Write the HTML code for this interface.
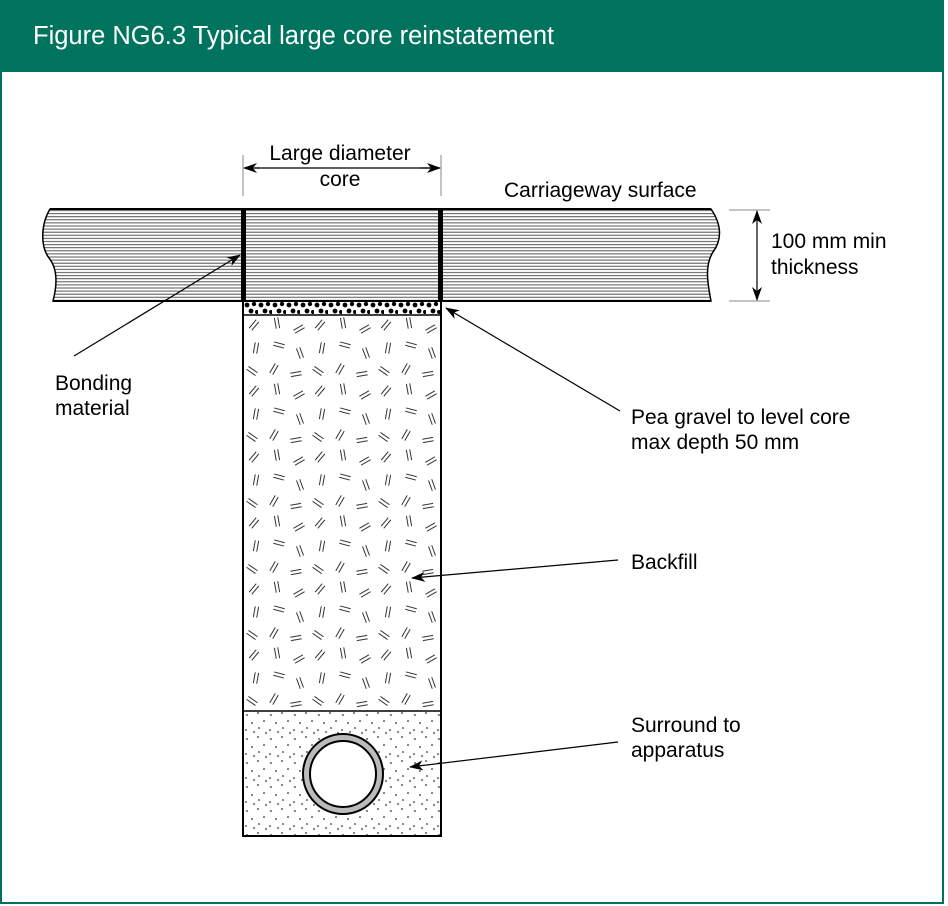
<!DOCTYPE html>
<html><head><meta charset="utf-8"><style>
html,body{margin:0;padding:0;background:#fff;}
body{width:948px;height:906px;overflow:hidden;position:relative;font-family:"Liberation Sans",Arial,sans-serif;}
</style></head><body>
<svg width="948" height="906" viewBox="0 0 948 906" xmlns="http://www.w3.org/2000/svg" style="position:absolute;left:0;top:0" font-family="Liberation Sans, Arial, sans-serif">
<defs>
<pattern id="hl" width="10" height="3.1" patternUnits="userSpaceOnUse" y="209">
<rect width="10" height="3.1" fill="#fff"/>
<line x1="0" y1="1.5" x2="10" y2="1.5" stroke="#555" stroke-width="1"/>
</pattern>
<pattern id="grav" width="14" height="14" patternUnits="userSpaceOnUse" x="244" y="301">
<circle cx="3" cy="4" r="2.4" fill="#000"/><circle cx="10" cy="3" r="2.2" fill="#000"/>
<circle cx="7" cy="10" r="2.4" fill="#000"/><circle cx="13" cy="11" r="2" fill="#000"/>
</pattern>
<g id="m"><path d="M-5.5,-1.7 L5.5,-1.7 M-5.5,1.7 L5.5,1.7" stroke="#333" stroke-width="1"/></g>
<pattern id="bf" width="66" height="66" patternUnits="userSpaceOnUse" x="244" y="315">
<use href="#m" transform="translate(10,10) rotate(-50)"/>
<use href="#m" transform="translate(33,8) rotate(80)"/>
<use href="#m" transform="translate(55,14) rotate(-30)"/>
<use href="#m" transform="translate(12,33) rotate(100)"/>
<use href="#m" transform="translate(35,30) rotate(15)"/>
<use href="#m" transform="translate(56,38) rotate(70)"/>
<use href="#m" transform="translate(8,56) rotate(35)"/>
<use href="#m" transform="translate(30,54) rotate(-60)"/>
<use href="#m" transform="translate(52,59) rotate(-10)"/>
</pattern>
<pattern id="dots" width="24" height="24" patternUnits="userSpaceOnUse" x="244" y="711">
<circle cx="3" cy="4" r="0.9" fill="#333"/><circle cx="14" cy="2" r="0.9" fill="#333"/>
<circle cx="20" cy="10" r="0.9" fill="#333"/><circle cx="8" cy="12" r="0.9" fill="#333"/>
<circle cx="2" cy="19" r="0.9" fill="#333"/><circle cx="15" cy="17" r="0.9" fill="#333"/>
<circle cx="22" cy="22" r="0.9" fill="#333"/><circle cx="10" cy="21" r="0.9" fill="#333"/>
</pattern>
<marker id="ar" markerWidth="14" markerHeight="10" refX="13" refY="5" orient="auto" markerUnits="userSpaceOnUse">
<path d="M0,0 L14,5 L0,10 L4,5 Z" fill="#000"/></marker>
</defs>
<rect x="1" y="1" width="942" height="902" fill="#fff" stroke="#00735f" stroke-width="2"/>
<rect x="0" y="0" width="944" height="72" fill="#00735f"/>
<text x="33" y="44" fill="#fff" font-size="25.5">Figure NG6.3 Typical large core reinstatement</text>

<path d="M50,209 L711,209 C722,225 722,240 713,252 C704,266 708,285 711,301 L53,301 C58,282 57,268 49,258 C40,246 41,224 50,209 Z" fill="url(#hl)" stroke="#000" stroke-width="1.5"/>
<line x1="50" y1="209" x2="711" y2="209" stroke="#000" stroke-width="2"/>
<line x1="53" y1="301" x2="711" y2="301" stroke="#000" stroke-width="2"/>
<rect x="241" y="209" width="5" height="92" fill="#000"/>
<rect x="438" y="209" width="5" height="92" fill="#000"/>

<rect x="244" y="301" width="197" height="14" fill="url(#grav)"/>
<rect x="244" y="315" width="197" height="396" fill="url(#bf)"/>
<rect x="244" y="711" width="197" height="125" fill="url(#dots)"/>
<line x1="244" y1="315" x2="441" y2="315" stroke="#000" stroke-width="1.5"/>
<line x1="244" y1="711" x2="441" y2="711" stroke="#000" stroke-width="1.5"/>
<rect x="243" y="301" width="198" height="535" fill="none" stroke="#000" stroke-width="2"/>
<circle cx="343" cy="774" r="40" fill="#bbb" stroke="#000" stroke-width="2"/>
<circle cx="343" cy="774" r="33" fill="#fff" stroke="#000" stroke-width="2"/>

<line x1="243" y1="155" x2="243" y2="196" stroke="#888" stroke-width="1"/>
<line x1="441" y1="155" x2="441" y2="196" stroke="#888" stroke-width="1"/>
<line x1="260" y1="168" x2="244" y2="168" stroke="#000" stroke-width="1.2" marker-end="url(#ar)"/>
<line x1="420" y1="168" x2="440" y2="168" stroke="#000" stroke-width="1.2" marker-end="url(#ar)"/>
<line x1="255" y1="168" x2="430" y2="168" stroke="#000" stroke-width="1.2"/>
<text x="340" y="160" text-anchor="middle" font-size="21">Large diameter</text>
<text x="340" y="186" text-anchor="middle" font-size="21">core</text>
<text x="504" y="197" font-size="21">Carriageway surface</text>

<line x1="729" y1="210" x2="770" y2="210" stroke="#888" stroke-width="1"/>
<line x1="729" y1="301" x2="770" y2="301" stroke="#888" stroke-width="1"/>
<line x1="757" y1="255" x2="757" y2="211" stroke="#000" stroke-width="1.2" marker-end="url(#ar)"/>
<line x1="757" y1="255" x2="757" y2="300" stroke="#000" stroke-width="1.2" marker-end="url(#ar)"/>
<text x="771" y="248" font-size="21">100 mm min</text>
<text x="771" y="274" font-size="21">thickness</text>

<line x1="74" y1="356" x2="240" y2="255" stroke="#000" stroke-width="1.2" marker-end="url(#ar)"/>
<text x="55" y="390" font-size="21">Bonding</text>
<text x="55" y="415" font-size="21">material</text>
<line x1="620" y1="411" x2="446" y2="308" stroke="#000" stroke-width="1.2" marker-end="url(#ar)"/>
<text x="631" y="424" font-size="21">Pea gravel to level core</text>
<text x="631" y="449" font-size="21">max depth 50 mm</text>
<line x1="618" y1="560" x2="412" y2="578" stroke="#000" stroke-width="1.2" marker-end="url(#ar)"/>
<text x="631" y="569" font-size="21">Backfill</text>
<line x1="618" y1="742" x2="410" y2="767" stroke="#000" stroke-width="1.2" marker-end="url(#ar)"/>
<text x="631" y="732" font-size="21">Surround to</text>
<text x="631" y="757" font-size="21">apparatus</text>
</svg>
</body></html>
